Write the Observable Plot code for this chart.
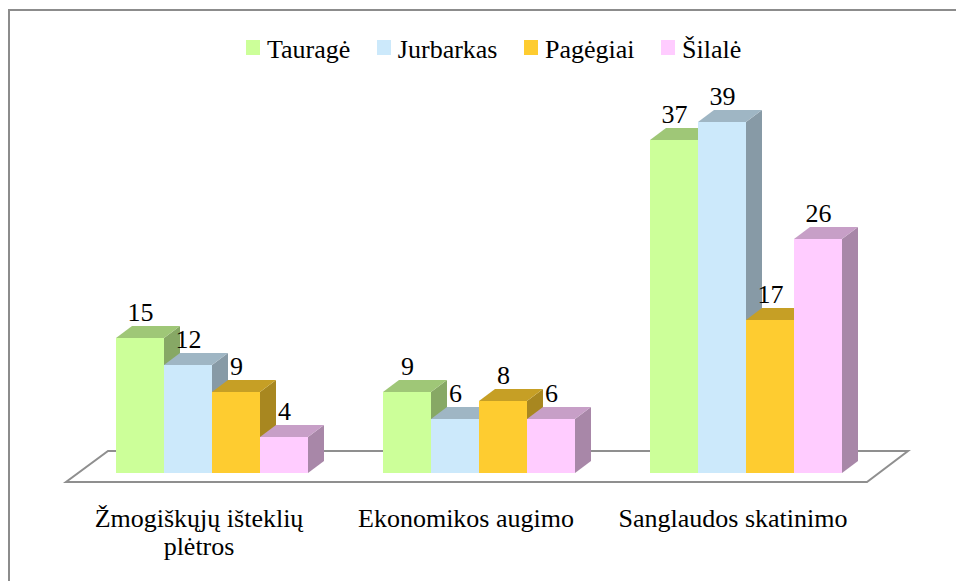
<!DOCTYPE html>
<html>
<head>
<meta charset="utf-8">
<script src="https://cdn.jsdelivr.net/npm/d3@7"></script>
<script src="https://cdn.jsdelivr.net/npm/@observablehq/plot@0.6"></script>
<style>
html, body { margin: 0; padding: 0; width: 956px; height: 581px; overflow: hidden; background: #fff; }
#frame { position: absolute; left: 8px; top: 9px; width: 1000px; height: 1000px;
  border-left: 2px solid #8c8c8c; border-top: 2px solid #8c8c8c; }
#chart { position: absolute; left: 0; top: 0; }
#legend { position: absolute; left: 246px; top: 37px; display: flex;
  font-family: 'Liberation Serif', serif; font-size: 26px; line-height: 26px; color: #000; }
#legend .item { display: flex; align-items: flex-start; margin-right: 26.5px; }
#legend .sw { width: 14px; height: 15px; margin-top: 3px; margin-right: 7px; }
</style>
</head>
<body>
<div id="frame"></div>
<div id="chart"></div>
<div id="legend"></div>
<script>
// ---- data ----
const categories = ["Žmogiškųjų išteklių plėtros", "Ekonomikos augimo", "Sanglaudos skatinimo"];
const categoryLabels = ["Žmogiškųjų išteklių\nplėtros", "Ekonomikos augimo", "Sanglaudos skatinimo"];
const series = ["Tauragė", "Jurbarkas", "Pagėgiai", "Šilalė"];
const taurage = [15, 9, 37];
const jurbarkas = [12, 6, 39];
const pagegiai = [9, 8, 17];
const silale = [4, 6, 26];
const seriesValues = [taurage, jurbarkas, pagegiai, silale];
const colors = ["#ccff99", "#cce9fb", "#fecc30", "#ffccff"];

const data = categories.flatMap((c, ci) =>
  series.map((s, si) => ({category: c, series: s, value: seriesValues[si][ci]})));

// ---- 3D styling ----
const DX = 16, DY = 12;
const FONT = "'Liberation Serif', serif";
function shade(c, k) { const r = d3.rgb(c); return d3.rgb(r.r * k, r.g * k, r.b * k).formatHex(); }

function render3D(index, scales, values) {
  const bw = scales.x.bandwidth();
  const g = d3.create("svg:g");
  for (const i of index) {
    const x0 = values.x[i], x1 = x0 + bw;
    const yt = Math.min(values.y1[i], values.y2[i]);
    const yb = Math.max(values.y1[i], values.y2[i]);
    const c = values.fill[i];
    g.append("polygon")
      .attr("points", [[x1, yt], [x1 + DX, yt - DY], [x1 + DX, yb - DY], [x1, yb]].join(" "))
      .attr("fill", shade(c, 0.66));
    g.append("polygon")
      .attr("points", [[x0, yt], [x1, yt], [x1 + DX, yt - DY], [x0 + DX, yt - DY]].join(" "))
      .attr("fill", shade(c, 0.78));
    g.append("rect").attr("x", x0).attr("y", yt).attr("width", bw).attr("height", yb - yt).attr("fill", c);
  }
  return g.node();
}

const plot = Plot.plot({
  width: 956,
  height: 581,
  marginLeft: 114,
  marginRight: 111,
  marginTop: 0,
  marginBottom: 0,
  style: {background: "transparent", overflow: "visible", fontFamily: FONT},
  fx: {domain: categories, paddingInner: 0.272, paddingOuter: 0, axis: null, label: null},
  x: {domain: series, padding: 0, axis: null, label: null},
  y: {domain: [0, 40], range: [473, 113], axis: null, label: null},
  color: {domain: series, range: colors},
  marks: [
    Plot.barY(data, {fx: "category", x: "series", y: "value", fill: "series", render: render3D}),
    Plot.text(data, {fx: "category", x: "series", y: "value", text: d => String(d.value),
      dy: -18, lineAnchor: "bottom", fontSize: 26, fontFamily: FONT, fill: "#000"}),
    Plot.text(categories, {fx: d => d, y: () => 0, text: (d, i) => categoryLabels[i],
      dx: -13.5, dy: 33.5, lineAnchor: "top", lineHeight: 1.08, fontSize: 26, fontFamily: FONT, fill: "#000"})
  ]
});
document.getElementById("chart").appendChild(plot);

// floor (drawn behind the bars) from the plot's own scales
const fxS = plot.scale("fx"), yS = plot.scale("y");
const r0 = fxS.apply(categories[0]);
const r1 = fxS.apply(categories[categories.length - 1]) + fxS.bandwidth;
const y0 = yS.apply(0);
d3.select(plot).insert("polygon", ":first-child")
  .attr("points", [[r0 - 7, y0 - 22], [r1 + 65, y0 - 22], [r1 + 24, y0 + 9], [r0 - 49, y0 + 9]].join(" "))
  .attr("fill", "#fff").attr("stroke", "#8f8f8f").attr("stroke-width", 2);

// legend
const legend = d3.select("#legend");
series.forEach((s, i) => {
  const it = legend.append("div").attr("class", "item");
  it.append("div").attr("class", "sw").style("background", colors[i]);
  it.append("span").text(s);
});
</script>
</body>
</html>
